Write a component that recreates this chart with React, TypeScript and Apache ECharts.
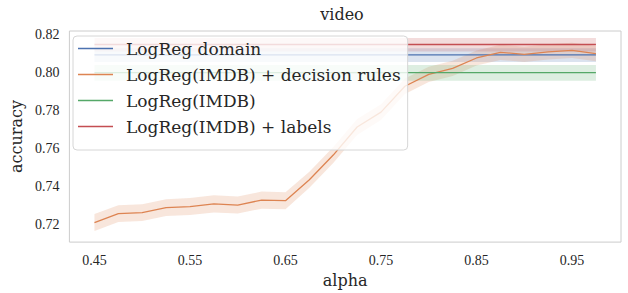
import React, { useEffect, useRef } from "react";
import * as echarts from "echarts";

const xValues = [0.45, 0.475, 0.5, 0.525, 0.55, 0.575, 0.6, 0.625, 0.65, 0.675, 0.7, 0.725, 0.75, 0.775, 0.8, 0.825, 0.85, 0.875, 0.9, 0.925, 0.95, 0.975];
const rulesMean = [0.7211, 0.7258, 0.7263, 0.7289, 0.7295, 0.7309, 0.7303, 0.7329, 0.7326, 0.7436, 0.7566, 0.7714, 0.7792, 0.7928, 0.7991, 0.8022, 0.8077, 0.8107, 0.8096, 0.8109, 0.8117, 0.8100];
const rulesLower = [0.7166, 0.7214, 0.7219, 0.7245, 0.7250, 0.7264, 0.7258, 0.7284, 0.7281, 0.7394, 0.7524, 0.7672, 0.7751, 0.7887, 0.7951, 0.7982, 0.8037, 0.8067, 0.8056, 0.8069, 0.8077, 0.8060];
const rulesUpper = [0.7256, 0.7302, 0.7307, 0.7333, 0.7340, 0.7354, 0.7348, 0.7374, 0.7371, 0.7478, 0.7608, 0.7756, 0.7833, 0.7969, 0.8031, 0.8062, 0.8117, 0.8147, 0.8136, 0.8149, 0.8157, 0.8140];

const domainMean = 0.8093;
const domainLower = 0.8056;
const domainUpper = 0.8128;
const imdbMean = 0.8000;
const imdbLower = 0.7957;
const imdbUpper = 0.8040;
const labelsMean = 0.8148;
const labelsLower = 0.8111;
const labelsUpper = 0.8182;

const xTicks = [0.45, 0.55, 0.65, 0.75, 0.85, 0.95];
const yTicks = [0.72, 0.74, 0.76, 0.78, 0.8, 0.82];

const names = ["LogReg domain", "LogReg(IMDB) + decision rules", "LogReg(IMDB)", "LogReg(IMDB) + labels"];
const colors = ["#4C72B0", "#DD8452", "#55A868", "#C44E52"];
const bandColors = ["rgba(76,114,176,0.2)", "rgba(221,132,82,0.2)", "rgba(85,168,104,0.2)", "rgba(196,78,82,0.2)"];

const TEXT = "#262626";
const SERIF = "DejaVu Serif";
const TICKFONT = "Liberation Serif";

function bandSeries(key: string, xs: number[], lo: number[], hi: number[], color: string) {
  return {
    name: "_" + key,
    type: "custom",
    silent: true,
    data: [[xs[0], lo[0]]],
    renderItem: (params: any, api: any) => {
      const upper = xs.map((x, i) => api.coord([x, hi[i]]));
      const lower = xs.map((x, i) => api.coord([x, lo[i]])).reverse();
      return {
        type: "polygon",
        shape: { points: [...upper, ...lower] },
        style: { fill: color, stroke: "none" },
      };
    },
  };
}

function meanSeries(name: string, xs: number[], ys: number[], color: string) {
  return {
    name,
    type: "line",
    symbol: "none",
    showSymbol: false,
    color,
    itemStyle: { color },
    lineStyle: { color, width: 1.3 },
    data: xs.map((x, i) => [x, ys[i]]),
  };
}

export default function App() {
  const ref = useRef<HTMLDivElement>(null);
  useEffect(() => {
    if (!ref.current) return;
    const chart = echarts.init(ref.current, undefined, { renderer: "svg" });
    const ends = [xValues[0], xValues[xValues.length - 1]];
    const option: any = {
      animation: false,
      backgroundColor: "#ffffff",
      graphic: [
        {
          type: "text",
          x: 342,
          y: 14.5,
          style: {
            text: "video",
            fontFamily: SERIF,
            fontSize: 16,
            fill: TEXT,
            align: "center",
            verticalAlign: "middle",
          },
        },
      ],
      grid: {
        left: 63,
        right: 7,
        top: 31,
        bottom: 48,
        show: true,
        borderColor: "#cccccc",
        borderWidth: 1,
        backgroundColor: "transparent",
      },
      legend: {
        data: names.map((n) => ({ name: n, icon: "rect" })),
        orient: "vertical",
        left: 73,
        top: 36,
        padding: [4, 7, 15, 5],
        itemWidth: 35,
        itemHeight: 1.4,
        itemGap: 9,
        backgroundColor: "rgba(255,255,255,0.8)",
        borderColor: "#d6d6d6",
        borderWidth: 1,
        borderRadius: 4,
        textStyle: {
          fontFamily: SERIF,
          fontSize: 17,
          color: TEXT,
          lineHeight: 17,
          padding: [0, 0, 0, 8],
        },
      },
      xAxis: {
        type: "value",
        min: 0.42375,
        max: 1.00125,
        axisLine: { show: false },
        axisTick: { show: false },
        splitLine: { show: false },
        axisLabel: {
          customValues: xTicks,
          formatter: (v: number) => v.toFixed(2),
          fontFamily: TICKFONT,
          fontSize: 14,
          color: TEXT,
          margin: 11,
        },
        name: "alpha",
        nameLocation: "middle",
        nameGap: 18,
        nameTextStyle: { fontFamily: SERIF, fontSize: 16, color: TEXT },
      },
      yAxis: {
        type: "value",
        min: 0.7108,
        max: 0.8219,
        axisLine: { show: false },
        axisTick: { show: false },
        splitLine: { show: false },
        axisLabel: {
          customValues: yTicks,
          formatter: (v: number) => v.toFixed(2),
          fontFamily: TICKFONT,
          fontSize: 14,
          color: TEXT,
          margin: 10,
        },
        name: "accuracy",
        nameLocation: "middle",
        nameGap: 44,
        nameRotate: 90,
        nameTextStyle: { fontFamily: SERIF, fontSize: 16, color: TEXT },
      },
      series: [
        bandSeries("b0", ends, [domainLower, domainLower], [domainUpper, domainUpper], bandColors[0]),
        meanSeries(names[0], ends, [domainMean, domainMean], colors[0]),
        bandSeries("b1", xValues, rulesLower, rulesUpper, bandColors[1]),
        meanSeries(names[1], xValues, rulesMean, colors[1]),
        bandSeries("b2", ends, [imdbLower, imdbLower], [imdbUpper, imdbUpper], bandColors[2]),
        meanSeries(names[2], ends, [imdbMean, imdbMean], colors[2]),
        bandSeries("b3", ends, [labelsLower, labelsLower], [labelsUpper, labelsUpper], bandColors[3]),
        meanSeries(names[3], ends, [labelsMean, labelsMean], colors[3]),
      ],
    };
    chart.setOption(option);
    return () => chart.dispose();
  }, []);
  return (
    <div
      ref={ref}
      style={{ position: "fixed", left: 0, top: 0, width: 628, height: 293 }}
    />
  );
}
